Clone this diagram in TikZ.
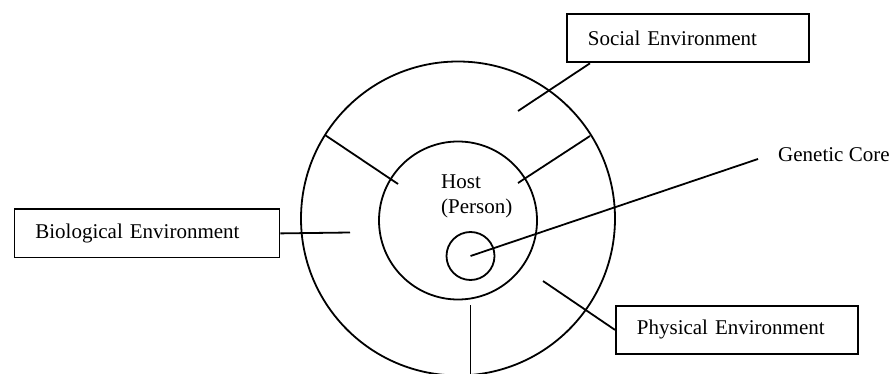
\documentclass[tikz,border=0pt]{standalone}
\usepackage{fontspec}
\setmainfont{Liberation Serif}
\usetikzlibrary{calc}
\begin{document}
\begin{tikzpicture}[x=1pt,y=-1pt,
  ln/.style={line width=1.8pt, black},
  lbox/.style={draw, line width=1.8pt, anchor=north west, minimum height=48pt,
    inner xsep=21pt, inner ysep=0pt, align=left,
    font=\fontsize{21}{25}\selectfont},
  lbl/.style={font=\fontsize{21}{25}\selectfont, inner sep=0pt},
  ring/.style={draw, circle, line width=1.8pt, inner sep=0pt}]
\useasboundingbox (0,0) rectangle (894,374);
% circles
\node[ring, minimum size=314pt] (outer) at (458,218.5) {};
\node[ring, minimum size=158pt] (inner) at (458,220.5) {};
\node[ring, minimum size=48pt] (core) at (470.5,256) {};
% host text
\node[lbl, anchor=west, align=left] (host) at (441,196) {Host\\(Person)};
% boxes
\node[lbox, text width=200pt] (social) at (566,13.5) {Social Environment};
\node[lbox, text width=223pt] (bio) at (13.5,208.5) {Biological Environment};
\node[lbox, text width=200pt] (phys) at (615,305) {Physical Environment};
\node[lbl, anchor=west] (gen) at (778,155) {Genetic Core};
% free ends
\coordinate (sEnd) at (518,111);
\coordinate (bEnd) at (350,232.5);
\coordinate (pEnd) at (543,281);
\coordinate (gEnd) at (758,159);
\coordinate (d1a) at (325,135);
\coordinate (d1b) at (398,184);
\coordinate (d2a) at (590,136);
\coordinate (d2b) at (518,183);
\coordinate (d3a) at (470.5,305);
\coordinate (d3b) at (470.5,380);
% connectors
\draw[ln] ($(social.south west)+(24,0)$) -- (sEnd);
\draw[ln] (bio.east) -- (bEnd);
\draw[ln] (phys.west) -- (pEnd);
\draw[ln] (core.center) -- (gEnd);
% dividers
\draw[ln] (d1a) -- (d1b);
\draw[ln] (d2a) -- (d2b);
\draw[ln] (d3a) -- (d3b);
\end{tikzpicture}
\end{document}
